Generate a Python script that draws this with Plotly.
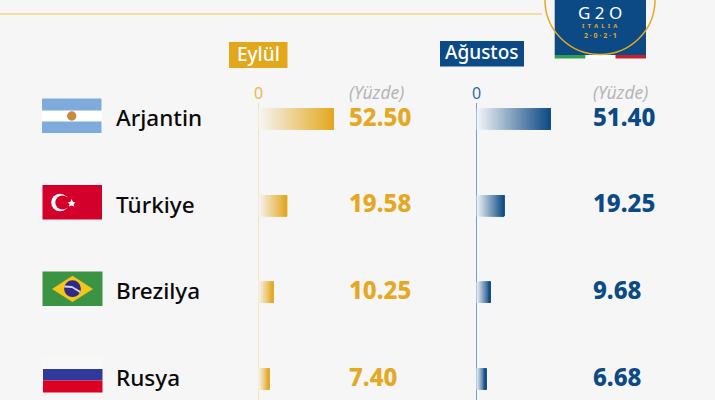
import plotly.graph_objects as go

countries = ["Arjantin", "Türkiye", "Brezilya", "Rusya"]
eylul = [52.50, 19.58, 10.25, 7.40]
agustos = [51.40, 19.25, 9.68, 6.68]
eylul_labels = ["52.50", "19.58", "10.25", "7.40"]
agustos_labels = ["51.40", "19.25", "9.68", "6.68"]

W, H = 715, 400
BG = "#f6f6f7"
GOLD = "#e3a71c"
NAVY = "#0b4a84"
FONT = "Noto Sans"
STEPS = 40


def px(x):
    return x / W


def py(y):
    return 1 - y / H


def mix(c, t):
    a = [int(BG[i:i + 2], 16) for i in (1, 3, 5)]
    b = [int(c[i:i + 2], 16) for i in (1, 3, 5)]
    return "rgb(%d,%d,%d)" % tuple(round(p + (q - p) * t) for p, q in zip(a, b))


def gradient_trace(values, color, axis):
    ys, xs, bases, colors = [], [], [], []
    for name, v in zip(countries, values):
        for i in range(STEPS):
            ys.append(name)
            xs.append(v * (STEPS - i) / STEPS)  # each slice runs to the bar's end; the next one paints over it
            bases.append(v * i / STEPS)
            colors.append(mix(color, (i + 0.5) / STEPS))
    return go.Bar(y=ys, x=xs, base=bases, orientation="h", width=0.242, xaxis=axis, yaxis="y",
                  marker=dict(color=colors, line=dict(width=0)), showlegend=False, hoverinfo="skip")


fig = go.Figure([gradient_trace(eylul, GOLD, "x"), gradient_trace(agustos, NAVY, "x2")])

shapes = []
ann = []


def rect(x0, y0, x1, y1, color, layer="below"):
    shapes.append(dict(type="rect", xref="paper", yref="paper", x0=px(x0), x1=px(x1), y0=py(y0), y1=py(y1),
                       fillcolor=color, line=dict(width=0), layer=layer))


def circle(cx, cy, rx, ry, color, line=None):
    shapes.append(dict(type="circle", xref="paper", yref="paper", x0=px(cx - rx), x1=px(cx + rx),
                       y0=py(cy + ry), y1=py(cy - ry), fillcolor=color,
                       line=line or dict(width=0), layer="below"))


def poly(points, color):
    d = "M" + " L".join(f"{px(x):.5f},{py(y):.5f}" for x, y in points) + " Z"
    shapes.append(dict(type="path", xref="paper", yref="paper", path=d, fillcolor=color,
                       line=dict(width=0), layer="below"))


def text(x, y, s, size, color, anchor="left", weight=400, italic=False, family=FONT):
    ann.append(dict(xref="paper", yref="paper", x=px(x), y=py(y), text=s, showarrow=False,
                    xanchor=anchor, yanchor="middle", borderpad=0, borderwidth=0,
                    font=dict(size=size, color=color, family=family, weight=weight,
                              style="italic" if italic else "normal")))


# header rule and G20 badge
shapes.append(dict(type="line", xref="paper", yref="paper", x0=0, x1=px(542), y0=py(14), y1=py(14),
                   line=dict(color="#f7d384", width=1.5), layer="below"))
rect(554.7, -5, 646, 55, NAVY)
rect(554.7, 55, 585.5, 58.5, "#2f9e4f")
rect(585.5, 55, 615.5, 58.5, "#ffffff")
rect(615.5, 55, 646, 58.5, "#c8202d")
circle(600, 0, 55, 54.5, "rgba(0,0,0,0)", dict(color="#e5a823", width=1.5))
text(600, 12.5, "G 2 O", 17, "#ffffff", "center", 400)
text(600, 25.7, "I\u00a0\u00a0T\u00a0\u00a0A\u00a0\u00a0L\u00a0\u00a0I\u00a0\u00a0A", 6, "#e5a823", "center", 700)
text(600, 35.3, "2\u00a0\u00b7\u00a00\u00a0\u00b7\u00a02\u00a0\u00b7\u00a01", 7, "#e5a823", "center", 700)

# column headers
rect(229, 42, 287.5, 68, GOLD)
text(258.3, 54.5, "Eylül", 19, "#ffffff", "center", 500)
rect(440, 41, 524, 66.5, NAVY)
text(482, 52.5, "Ağustos", 19, "#ffffff", "center", 500)
text(258, 93, "0", 16, "#eeb94a", "center")
text(476, 93, "0", 16, "#2f6aa3", "center")
text(348.5, 92, "(Yüzde)", 17.5, "#b5b5b8", "left", 400, True)
text(592.5, 92, "(Yüzde)", 17.5, "#b5b5b8", "left", 400, True)

# zero lines
shapes.append(dict(type="line", xref="paper", yref="paper", x0=px(258.6), x1=px(258.6), y0=py(103), y1=0,
                   line=dict(color="#f6e3b4", width=1), layer="below"))
shapes.append(dict(type="line", xref="paper", yref="paper", x0=px(476.5), x1=px(476.5), y0=py(103), y1=0,
                   line=dict(color="#6fa3d6", width=1), layer="below"))

# flags
rect(42, 98.5, 101.5, 133, "#ffffff")
rect(42, 98.5, 101.5, 110.5, "#7fabdc")
rect(42, 121.5, 101.5, 133, "#7fabdc")
circle(71.7, 116, 4.7, 4.7, "#c98a3c")

rect(42.5, 185, 102, 219.5, "#d2002a")
circle(60, 202.5, 8.8, 8.8, "#ffffff")
circle(62.4, 202.5, 7.1, 7.1, "#d2002a")
star = [(67.5, 202.4), (70.3, 201.9), (71.6, 199), (73, 201.9), (75.6, 202.4), (73.6, 204.1), (74.2, 206.6),
        (71.6, 205.4), (69, 206.6), (69.6, 204.1)]
poly(star, "#ffffff")

rect(42.5, 271.5, 102.5, 306, "#3b9444")
poly([(52, 289), (72.5, 275.7), (93, 289), (72.5, 302)], "#f5c518")
circle(72.5, 288.7, 8.4, 8.4, "#2e2a86")
poly([(64.5, 285.5), (72, 286), (80.5, 291), (80, 293), (72, 288), (64.3, 287.4)], "#cfd6e6")

rect(43, 369, 102.5, 380.5, "#303a9c")
rect(43, 380.5, 102.5, 392.5, "#dd0025")
rect(43, 357.5, 102.5, 369, "#f8f8f9")

# country names and values, placed by category row on the shared y axis
for name, a, b in zip(countries, eylul_labels, agustos_labels):
    ann.append(dict(xref="paper", yref="y", x=px(113.5), y=name, text=name, showarrow=False, xanchor="left",
                    yanchor="middle", yshift=1.5, font=dict(size=22.5, color="#0a0a0a", family=FONT, weight=500)))
    ann.append(dict(xref="paper", yref="y", x=px(347), y=name, text=a, showarrow=False, xanchor="left",
                    yanchor="middle", yshift=3, font=dict(size=24, color="#e5a823", family=FONT, weight=800)))
    ann.append(dict(xref="paper", yref="y", x=px(591), y=name, text=b, showarrow=False, xanchor="left",
                    yanchor="middle", yshift=3, font=dict(size=24, color=NAVY, family=FONT, weight=800)))

SCALE = 1.44
fig.update_layout(
    width=W, height=H, margin=dict(l=0, r=0, t=0, b=0), autosize=False,
    paper_bgcolor=BG, plot_bgcolor="rgba(0,0,0,0)", barmode="overlay", shapes=shapes, annotations=ann,
    xaxis=dict(domain=[px(258.4), px(458.4)], range=[0, 200 / SCALE], visible=False, fixedrange=True),
    xaxis2=dict(domain=[px(476.4), px(676.4)], range=[0, 200 / SCALE], visible=False, fixedrange=True),
    yaxis=dict(domain=[0, 1], type="category", categoryorder="array", categoryarray=countries,
               range=[3.242, -1.373], visible=False, fixedrange=True),
)
fig.write_html("out.html", config=dict(displayModeBar=False),
               post_script="document.body.style.margin='0';document.body.style.background='" + BG + "';")
